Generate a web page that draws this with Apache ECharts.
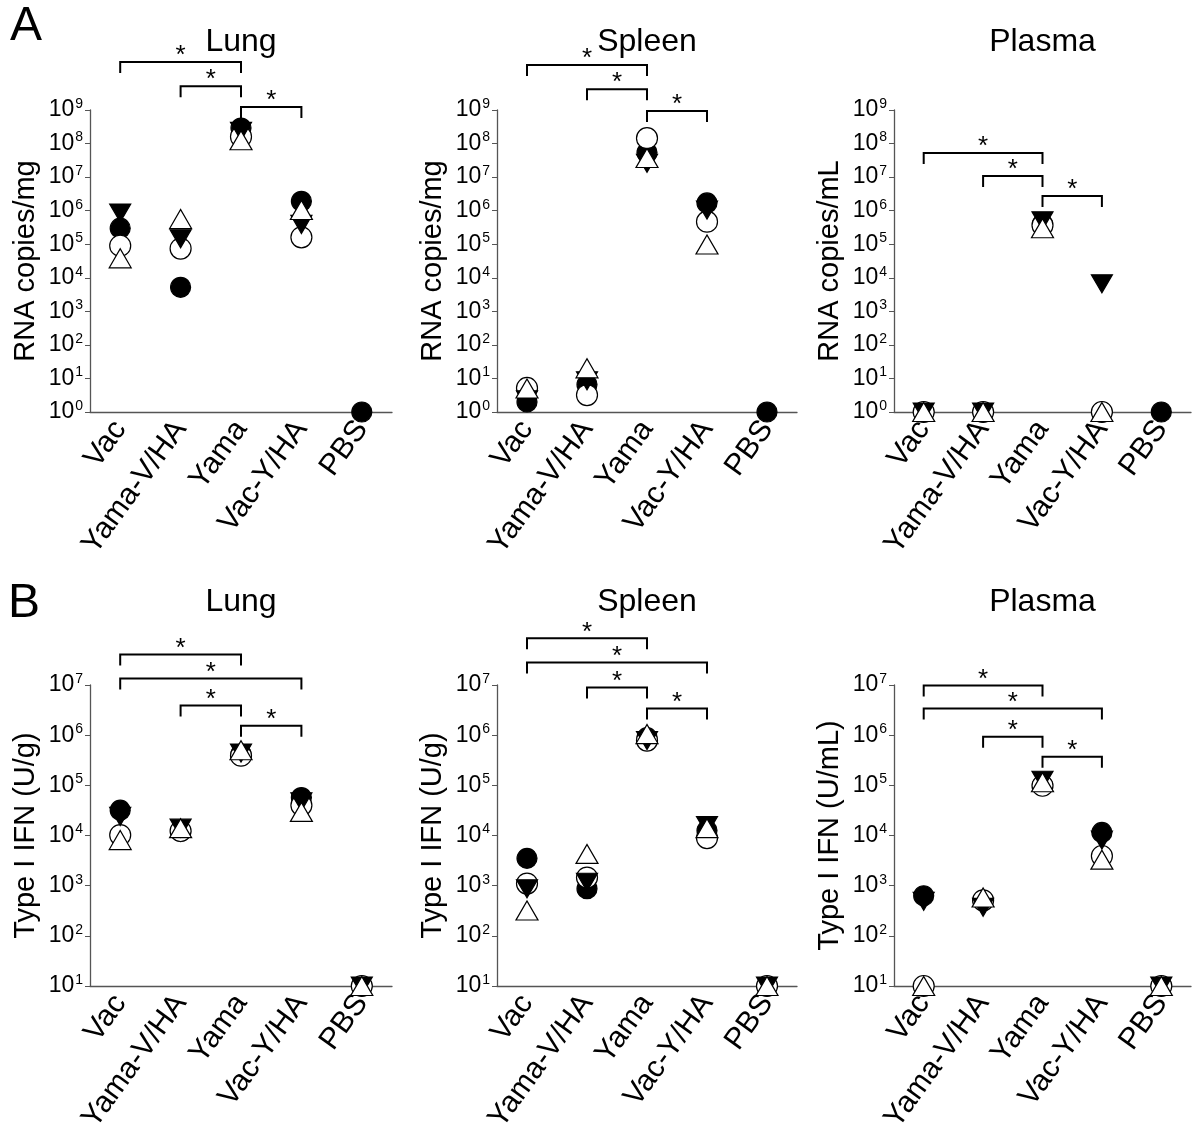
<!DOCTYPE html>
<html>
<head>
<meta charset="utf-8">
<script src="https://cdn.jsdelivr.net/npm/echarts@6/dist/echarts.min.js"></script>
<style>
html,body{margin:0;padding:0;background:#fff;}
#chart{width:1200px;height:1138px;}
</style>
</head>
<body>
<div id="chart"></div>
<script>
// ---------- data ----------
const categories = ['Vac', 'Yama-V/HA', 'Yama', 'Vac-Y/HA', 'PBS'];

// A: RNA copies, Lung (per mg)
const aLungFilledCircle = [3.0e5, 5.2e3, 2.9e8, 1.9e6, 1];
const aLungOpenCircle   = [9.0e4, 7.4e4, 1.6e8, 1.6e5, null];
const aLungFilledDown   = [8.5e5, 1.45e5, 2.3e8, 3.9e5, null];
const aLungOpenUp       = [3.8e4, 5.6e5, 1.25e8, 1.05e6, null];

// A: RNA copies, Spleen (per mg)
const aSpleenFilledCircle = [2.0, 6.6, 5.4e7, 1.7e6, 1];
const aSpleenOpenCircle   = [5.2, 3.2, 1.45e8, 4.7e5, null];
const aSpleenFilledDown   = [2.3, 8.5, 2.6e7, 1.05e6, null];
const aSpleenOpenUp       = [5.0, 20, 3.7e7, 9.8e4, null];

// A: RNA copies, Plasma (per mL)
const aPlasmaFilledCircle = [1, 1, 4.0e5, 1, 1];
const aPlasmaOpenCircle   = [1, 1, 3.7e5, 1, null];
const aPlasmaFilledDown   = [1, 1, 5.0e5, 6.6e3, null];
const aPlasmaOpenUp       = [1, 1, 3.0e5, 1, null];

// B: Type I IFN, Lung (U/g)
const bLungFilledCircle = [3.2e4, 1.2e4, 4.2e5, 5.7e4, 10];
const bLungOpenCircle   = [1.02e4, 1.23e4, 3.9e5, 4.0e4, 10];
const bLungFilledDown   = [2.4e4, 1.4e4, 4.4e5, 4.7e4, 10];
const bLungOpenUp       = [8.1e3, 1.4e4, 5.0e5, 2.95e4, 10];

// B: Type I IFN, Spleen (U/g)
const bSpleenFilledCircle = [3.5e3, 8.7e2, 8.9e5, 1.26e4, 10];
const bSpleenOpenCircle   = [1.1e3, 1.45e3, 7.8e5, 8.9e3, 10];
const bSpleenFilledDown   = [8.7e2, 1.17e3, 7.8e5, 1.58e4, 10];
const bSpleenOpenUp       = [3.2e2, 4.3e3, 1.05e6, 1.4e4, 10];

// B: Type I IFN, Plasma (U/mL)
const bPlasmaFilledCircle = [6.3e2, 5.0e2, 1.0e5, 1.15e4, 10];
const bPlasmaOpenCircle   = [10, 5.1e2, 9.8e4, 3.9e3, 10];
const bPlasmaFilledDown   = [4.9e2, 3.7e2, 1.26e5, 8.1e3, 10];
const bPlasmaOpenUp       = [10, 5.8e2, 1.15e5, 3.3e3, 10];

// significance brackets: [from category, level, to category]
const aLungBrackets   = [[0, Math.pow(10, 10.43), 2], [1, Math.pow(10, 9.71), 2], [2, Math.pow(10, 9.09), 3]];
const aSpleenBrackets = [[0, Math.pow(10, 10.34), 2], [1, Math.pow(10, 9.62), 2], [2, Math.pow(10, 8.97), 3]];
const aPlasmaBrackets = [[0, Math.pow(10, 7.72), 2], [1, Math.pow(10, 7.03), 2], [2, Math.pow(10, 6.44), 3]];
const bLungBrackets   = [[0, Math.pow(10, 7.61), 2], [0, Math.pow(10, 7.13), 3], [1, Math.pow(10, 6.59), 2], [2, Math.pow(10, 6.19), 3]];
const bSpleenBrackets = [[0, Math.pow(10, 7.93), 2], [0, Math.pow(10, 7.45), 3], [1, Math.pow(10, 6.95), 2], [2, Math.pow(10, 6.53), 3]];
const bPlasmaBrackets = [[0, Math.pow(10, 6.99), 2], [0, Math.pow(10, 6.53), 3], [1, Math.pow(10, 5.97), 2], [2, Math.pow(10, 5.57), 3]];

// ---------- layout ----------
const FONT = 'Liberation Sans, Arial, sans-serif';
const panels = [
  { title: 'Lung',   yName: 'RNA copies/mg',    min: 1,  max: 1e9, split: 9, left: 90,  top: 110, width: 302, height: 302,
    s: [aLungFilledCircle, aLungOpenCircle, aLungFilledDown, aLungOpenUp], br: aLungBrackets },
  { title: 'Spleen', yName: 'RNA copies/mg',    min: 1,  max: 1e9, split: 9, left: 497, top: 110, width: 300, height: 302,
    s: [aSpleenFilledCircle, aSpleenOpenCircle, aSpleenFilledDown, aSpleenOpenUp], br: aSpleenBrackets },
  { title: 'Plasma', yName: 'RNA copies/mL',    min: 1,  max: 1e9, split: 9, left: 894, top: 110, width: 297, height: 302,
    s: [aPlasmaFilledCircle, aPlasmaOpenCircle, aPlasmaFilledDown, aPlasmaOpenUp], br: aPlasmaBrackets },
  { title: 'Lung',   yName: 'Type I IFN (U/g)', min: 10, max: 1e7, split: 6, left: 90,  top: 685, width: 302, height: 301,
    s: [bLungFilledCircle, bLungOpenCircle, bLungFilledDown, bLungOpenUp], br: bLungBrackets },
  { title: 'Spleen', yName: 'Type I IFN (U/g)', min: 10, max: 1e7, split: 6, left: 497, top: 685, width: 300, height: 301,
    s: [bSpleenFilledCircle, bSpleenOpenCircle, bSpleenFilledDown, bSpleenOpenUp], br: bSpleenBrackets },
  { title: 'Plasma', yName: 'Type I IFN (U/mL)', min: 10, max: 1e7, split: 6, left: 894, top: 685, width: 297, height: 301,
    s: [bPlasmaFilledCircle, bPlasmaOpenCircle, bPlasmaFilledDown, bPlasmaOpenUp], br: bPlasmaBrackets }
];

const markerStyles = [
  { symbol: 'circle',   size: 20, rotate: 0,   fill: '#000', stroke: '#000' },
  { symbol: 'circle',   size: 21, rotate: 0,   fill: '#fff', stroke: '#000' },
  { symbol: 'triangle', size: [21, 18], rotate: 180, fill: '#000', stroke: '#000' },
  { symbol: 'triangle', size: [22, 19], rotate: 0,   fill: '#fff', stroke: '#000' }
];

const AXIS_COLOR = '#555';
const grids = [], xAxes = [], yAxes = [], series = [], graphics = [];

panels.forEach((p, i) => {
  grids.push({ left: p.left, top: p.top, width: p.width, height: p.height, containLabel: false });
  xAxes.push({
    type: 'category', gridIndex: i, data: categories, boundaryGap: true,
    axisLine: { lineStyle: { color: AXIS_COLOR, width: 1.3 } },
    axisTick: { alignWithLabel: true, length: 5, lineStyle: { color: AXIS_COLOR } },
    axisLabel: { rotate: 54, interval: 0, margin: 12, color: '#000', fontSize: 30, fontFamily: FONT },
    splitLine: { show: false }
  });
  yAxes.push({
    type: 'log', logBase: 10, gridIndex: i, min: p.min, max: p.max, splitNumber: p.split,
    name: p.yName, nameLocation: 'middle', nameGap: 50,
    nameTextStyle: { color: '#000', fontSize: 29, fontFamily: FONT },
    axisLine: { show: true, lineStyle: { color: AXIS_COLOR, width: 1.3 } },
    axisTick: { show: true, length: 5, lineStyle: { color: AXIS_COLOR } },
    splitLine: { show: false },
    minorTick: { show: false },
    axisLabel: {
      margin: 7, color: '#000',
      formatter: v => '{b|10}{s|' + Math.round(Math.log10(v)) + '}',
      rich: {
        b: { fontSize: 23, fontFamily: FONT, color: '#000', lineHeight: 26 },
        s: { fontSize: 14, fontFamily: FONT, color: '#000', verticalAlign: 'top', lineHeight: 26, padding: [0, 0, 7, 1] }
      }
    }
  });
  p.s.forEach((arr, k) => {
    const m = markerStyles[k];
    series.push({
      type: 'scatter', xAxisIndex: i, yAxisIndex: i, z: 2 + k,
      symbol: m.symbol, symbolSize: m.size, symbolRotate: m.rotate,
      itemStyle: { color: m.fill, borderColor: m.stroke, borderWidth: 1.2, opacity: 1 },
      emphasis: { disabled: true }, silent: true, clip: false,
      data: arr.map((v, j) => [j, v == null ? '-' : v])
    });
  });
  series.push({
    type: 'custom', xAxisIndex: i, yAxisIndex: i, z: 10, silent: true, clip: false,
    encode: { x: [0, 2], y: 1 },
    data: p.br,
    renderItem: (params, api) => {
      const a = api.coord([api.value(0), api.value(1)]);
      const b = api.coord([api.value(2), api.value(1)]);
      const drop = 11;
      return {
        type: 'group',
        children: [
          { type: 'polyline',
            shape: { points: [[a[0], a[1] + drop], [a[0], a[1]], [b[0], b[1]], [b[0], b[1] + drop]] },
            style: { stroke: '#000', lineWidth: 2, fill: null } },
          { type: 'text', x: (a[0] + b[0]) / 2, y: a[1] + 7,
            style: { text: '*', font: '26px ' + FONT, fill: '#000', textAlign: 'center', textVerticalAlign: 'bottom' } }
        ]
      };
    }
  });
  graphics.push({
    type: 'text', x: p.left + p.width / 2, y: (i < 3 ? 42 : 602),
    style: { text: p.title, font: '32px ' + FONT, fill: '#000', textAlign: 'center', textVerticalAlign: 'middle' }
  });
});

graphics.push({ type: 'text', x: 26, y: 27, style: { text: 'A', font: '48px ' + FONT, fill: '#000', textAlign: 'center', textVerticalAlign: 'middle' } });
graphics.push({ type: 'text', x: 24, y: 604, style: { text: 'B', font: '48px ' + FONT, fill: '#000', textAlign: 'center', textVerticalAlign: 'middle' } });

const chart = echarts.init(document.getElementById('chart'), null, { renderer: 'canvas' });
chart.setOption({
  animation: false,
  backgroundColor: '#fff',
  grid: grids, xAxis: xAxes, yAxis: yAxes, series: series,
  graphic: graphics
});
</script>
</body>
</html>
